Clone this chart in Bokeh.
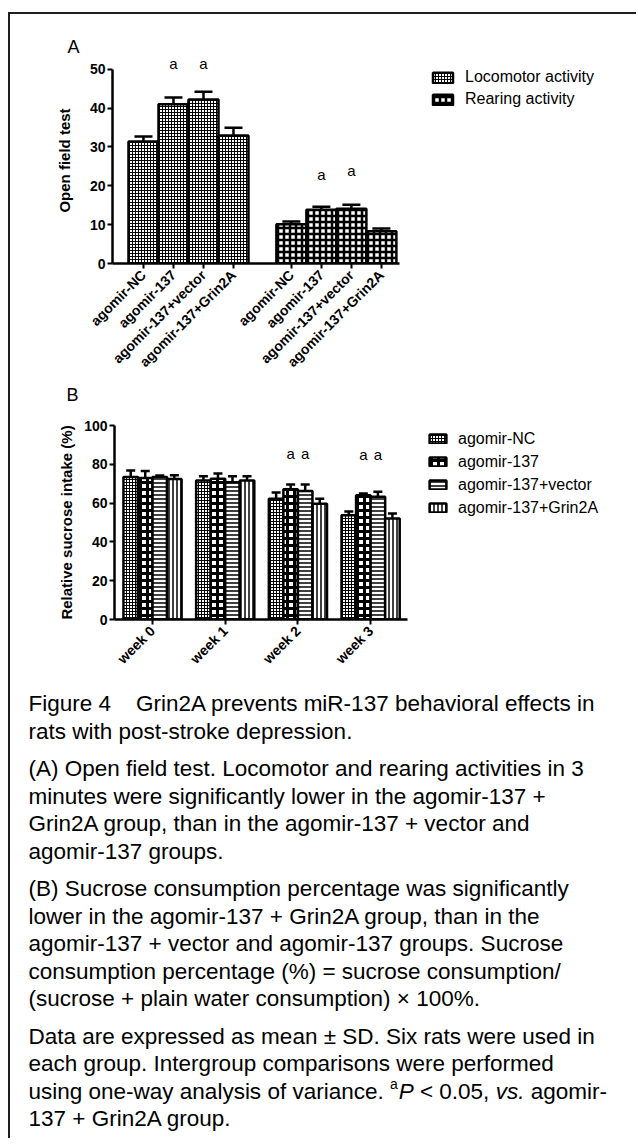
import math
from bokeh.plotting import figure
from bokeh.models import (ColumnDataSource, Range1d, Whisker, TeeHead, Title,
                          Legend, LegendItem, FixedTicker)
from bokeh.layouts import column
from bokeh.core.properties import value
from bokeh.embed import file_html
from bokeh.resources import INLINE

FONT = "Liberation Sans"
W = 626  # width of every figure

# ---------------- data: panel A (open field test) ----------------
a_groups = ["Locomotor activity", "Rearing activity"]
conditions = ["agomir-NC", "agomir-137", "agomir-137+vector", "agomir-137+Grin2A"]
locomotor_mean = [31.4, 41.0, 42.2, 32.9]
locomotor_sd = [1.3, 1.7, 2.0, 2.0]
rearing_mean = [10.1, 13.8, 14.1, 8.3]
rearing_sd = [0.7, 0.8, 1.0, 0.7]
a_yticks = [0, 10, 20, 30, 40, 50]
a_sig_index = [1, 2]
a_sig_locomotor_y = [51.4, 51.4]
a_sig_rearing_y = [22.9, 23.9]

# ---------------- data: panel B (sucrose preference) ----------------
weeks = ["week 0", "week 1", "week 2", "week 3"]
nc_mean = [73.4, 71.7, 62.3, 53.7]
nc_sd = [3.4, 2.2, 3.1, 2.0]
mir_mean = [73.0, 72.6, 67.1, 64.0]
mir_sd = [3.5, 2.7, 2.5, 0.9]
vector_mean = [73.4, 70.8, 66.2, 63.3]
vector_sd = [0.8, 3.0, 3.4, 2.6]
grin_mean = [72.4, 71.7, 59.7, 52.0]
grin_sd = [1.9, 2.1, 2.6, 2.6]
b_yticks = [0, 20, 40, 60, 80, 100]
b_sig_conditions = ["agomir-137", "agomir-137+vector"]
b_sig_weeks = ["week 2", "week 3"]
b_sig_y = [85.6, 84.8]

# ---------------- caption ----------------
caption_paragraphs = [
    ["Figure 4\u00a0\u00a0\u00a0\u00a0Grin2A prevents miR-137 behavioral effects in",
     "rats with post-stroke depression."],
    ["(A) Open field test. Locomotor and rearing activities in 3",
     "minutes were significantly lower in the agomir-137 +",
     "Grin2A group, than in the agomir-137 + vector and",
     "agomir-137 groups."],
    ["(B) Sucrose consumption percentage was significantly",
     "lower in the agomir-137 + Grin2A group, than in the",
     "agomir-137 + vector and agomir-137 groups. Sucrose",
     "consumption percentage (%) = sucrose consumption/",
     "(sucrose + plain water consumption) \u00d7 100%."],
    ["Data are expressed as mean \u00b1 SD. Six rats were used in",
     "each group. Intergroup comparisons were performed",
     None,
     "137 + Grin2A group."],
]
special_runs = [("using one-way analysis of variance. ", "normal"), ("a", "sup"),
                ("P", "italic"), (" < 0.05, ", "normal"), ("vs.", "italic"),
                (" agomir-", "normal")]


def style_axes(p, tick_size="14px", xlab_size="14px"):
    for ax in list(p.xaxis) + list(p.yaxis):
        ax.axis_line_width = 2.5
        ax.axis_line_color = "black"
        ax.major_tick_line_width = 2
        ax.major_tick_line_color = "black"
        ax.major_tick_out = 5
        ax.major_tick_in = 0
        ax.minor_tick_line_color = None
        ax.major_label_text_font = FONT
        ax.major_label_text_font_style = "bold"
        ax.major_label_text_color = "black"
        ax.major_label_text_font_size = tick_size
        ax.axis_label_text_font = FONT
        ax.axis_label_text_font_style = "bold"
        ax.axis_label_text_font_size = "15px"
        ax.axis_label_text_color = "black"
    for ax in p.xaxis:
        ax.major_label_orientation = math.pi / 4
        ax.major_label_text_font_size = xlab_size
        ax.major_label_standoff = 4
    for ax in p.yaxis:
        ax.major_label_standoff = 2
    p.grid.visible = False
    p.outline_line_color = None
    p.background_fill_color = "white"
    p.border_fill_color = "white"


def style_title(t, text, offset, standoff):
    t.text = text
    t.align = "left"
    t.offset = offset
    t.standoff = standoff
    t.text_font = FONT
    t.text_font_style = "normal"
    t.text_font_size = "18px"
    t.text_color = "black"


def make_legend(items, loc, gw, gh, row_h):
    return Legend(items=items, location=loc, border_line_color=None, background_fill_alpha=0,
                  padding=0, margin=0, spacing=0, glyph_width=gw, glyph_height=gh,
                  label_standoff=10, label_height=row_h, label_text_font=FONT,
                  label_text_font_size="16px", label_text_color="black")


# ======================= Panel A =======================
# 30 px per bar; frame runs to the right edge so the legend sits inside it
A_GROUP_GAP = 0.93
A_X0, A_AXIS_END = -1.033, 8.53
A_LEFT, A_RIGHT = 102, 5
A_X1 = A_X0 + (W - A_LEFT - A_RIGHT) / 30.0
pA = figure(width=W, height=394, x_range=Range1d(A_X0, A_X1), y_range=Range1d(0, 53),
            output_backend="svg", toolbar_location=None,
            min_border_left=A_LEFT, min_border_right=A_RIGHT,
            min_border_top=43, min_border_bottom=140)

a_series = [
    (a_groups[0], locomotor_mean, locomotor_sd,
     dict(hatch_pattern="cross", hatch_scale=3, hatch_weight=1)),
    (a_groups[1], rearing_mean, rearing_sd,
     dict(hatch_pattern="cross", hatch_scale=6, hatch_weight=2.5)),
]
a_renderers = []
a_tick_pos = []
a_tick_lab = {}
for gi, (grp, means, sds, hatch) in enumerate(a_series):
    xs = [gi * (len(conditions) + A_GROUP_GAP) + i for i in range(len(conditions))]
    a_tick_pos += xs
    for xv, c in zip(xs, conditions):
        a_tick_lab[xv] = c
    src = ColumnDataSource(dict(x=xs, top=means, upper=[m + s for m, s in zip(means, sds)]))
    r = pA.vbar(x="x", top="top", width=1.0, source=src, fill_color="white",
                line_color="black", line_width=2.5, hatch_color="black", **hatch)
    a_renderers.append(r)
    pA.add_layout(Whisker(source=src, base="x", lower="top", upper="upper", dimension="height",
                          line_width=2.5, line_color="black", level="overlay",
                          upper_head=TeeHead(size=18, line_width=2.5, line_color="black"),
                          lower_head=None))
    sig_y = a_sig_locomotor_y if gi == 0 else a_sig_rearing_y
    pA.text(x=[xs[i] for i in a_sig_index], y=sig_y, text=["a"] * len(sig_y),
            text_align="center", text_baseline="middle", text_font=value(FONT),
            text_font_size="15px", text_color="black")

style_axes(pA, tick_size="14px", xlab_size="14px")
pA.yaxis.ticker = FixedTicker(ticks=a_yticks)
pA.yaxis.bounds = (0, 50)
pA.yaxis.axis_label = "Open field test"
pA.yaxis.axis_label_standoff = 14
pA.xaxis.ticker = FixedTicker(ticks=a_tick_pos)
pA.xaxis.major_label_overrides = a_tick_lab
pA.xaxis.bounds = (A_X0, A_AXIS_END)
style_title(pA.title, "A", -45, 1)

# panel letter "B" sits under panel A's tick labels
title_b = Title()
style_title(title_b, "B", -46, 8)
pA.add_layout(title_b, "below")

pA.add_layout(make_legend([LegendItem(label=a_groups[i], renderers=[a_renderers[i]]) for i in range(2)],
                          (318, 153), 25, 13, 22))

# ======================= Panel B =======================
# 72.7 px per week group, bars 0.2 wide
B_PX = 72.7
B_X0, B_AXIS_END = -0.523, 3.507
B_LEFT, B_RIGHT = 104, 5
B_X1 = B_X0 + (W - B_LEFT - B_RIGHT) / B_PX
pB = figure(width=W, height=272, x_range=Range1d(B_X0, B_X1), y_range=Range1d(0, 100),
            output_backend="svg", toolbar_location=None,
            min_border_left=B_LEFT, min_border_right=B_RIGHT,
            min_border_top=17, min_border_bottom=61)

b_series = [
    (conditions[0], nc_mean, nc_sd, -0.3, dict(hatch_pattern="cross", hatch_scale=3, hatch_weight=1)),
    (conditions[1], mir_mean, mir_sd, -0.1, dict(hatch_pattern="cross", hatch_scale=7, hatch_weight=3)),
    (conditions[2], vector_mean, vector_sd, 0.1, dict(hatch_pattern="horizontal_line", hatch_scale=4, hatch_weight=1.5)),
    (conditions[3], grin_mean, grin_sd, 0.3, dict(hatch_pattern="vertical_line", hatch_scale=4, hatch_weight=1.5)),
]
week_pos = list(range(len(weeks)))
b_renderers = []
b_offsets = {}
for cond, means, sds, off, hatch in b_series:
    b_offsets[cond] = off
    src = ColumnDataSource(dict(x=[w + off for w in week_pos], top=means,
                                upper=[m + s for m, s in zip(means, sds)]))
    r = pB.vbar(x="x", top="top", width=0.2, source=src,
                fill_color="white", line_color="black", line_width=2.5,
                hatch_color="black", **hatch)
    b_renderers.append(r)
    pB.add_layout(Whisker(source=src, base="x", lower="top", upper="upper",
                          dimension="height", line_width=2.5, line_color="black", level="overlay",
                          upper_head=TeeHead(size=9, line_width=2.5, line_color="black"),
                          lower_head=None))

for cond in b_sig_conditions:
    sx = [weeks.index(w) + b_offsets[cond] for w in b_sig_weeks]
    pB.text(x=sx, y=b_sig_y, text=["a"] * len(sx),
            text_align="center", text_baseline="middle", text_font=value(FONT),
            text_font_size="15px", text_color="black")

style_axes(pB, tick_size="14px", xlab_size="14px")
pB.yaxis.ticker = FixedTicker(ticks=b_yticks)
pB.yaxis.axis_label = "Relative sucrose intake (%)"
pB.yaxis.axis_label_standoff = 6
pB.xaxis.ticker = FixedTicker(ticks=week_pos)
pB.xaxis.major_label_overrides = {w: lab for w, lab in zip(week_pos, weeks)}
pB.xaxis.bounds = (B_X0, B_AXIS_END)

pB.add_layout(make_legend([LegendItem(label=conditions[i], renderers=[b_renderers[i]]) for i in range(4)],
                          (313, 100), 21, 11, 23))

# ======================= Caption =======================
CAP_H = 458
pC = figure(width=W, height=CAP_H, x_range=Range1d(0, W), y_range=Range1d(CAP_H, 0),
            output_backend="svg", toolbar_location=None, min_border=0)
pC.axis.visible = False
pC.grid.visible = False
pC.outline_line_color = None

ARIAL_W = {" ": 278, "\u00a0": 278, "a": 556, "b": 556, "c": 500, "d": 556, "e": 556, "f": 278,
           "g": 556, "h": 556, "i": 222, "j": 222, "k": 500, "l": 222, "m": 833, "n": 556,
           "o": 556, "p": 556, "q": 556, "r": 333, "s": 500, "t": 278, "u": 556, "v": 500,
           "w": 722, "x": 500, "y": 500, "z": 500, ".": 278, ",": 278, "-": 333, "<": 584,
           "P": 667}


def text_w(s, size):
    return sum(ARIAL_W.get(ch, 556) for ch in s) * size / 1000.0


CAP_SIZE = 22.5
cap_x0 = 18
line_step = 27.5
para_gap = 10
y = 23.0
xs, ys, ts = [], [], []
special_y = None
for para in caption_paragraphs:
    for line in para:
        if line is None:
            special_y = y
        else:
            xs.append(cap_x0)
            ys.append(y)
            ts.append(line)
        y += line_step
    y += para_gap

pC.text(x=xs, y=ys, text=ts, text_font=value(FONT), text_font_size=f"{CAP_SIZE}px",
        text_baseline="middle", text_align="left", text_color="black")

cx = cap_x0
for txt, st in special_runs:
    shown = txt.replace(" ", "\u00a0")
    if st == "sup":
        pC.text(x=[cx], y=[special_y - 7], text=[shown], text_font=value(FONT),
                text_font_size="14px", text_baseline="middle", text_color="black")
        cx += text_w(txt, 14) + 1
    else:
        pC.text(x=[cx], y=[special_y], text=[shown], text_font=value(FONT),
                text_font_size=f"{CAP_SIZE}px", text_baseline="middle",
                text_font_style="italic" if st == "italic" else "normal", text_color="black")
        cx += text_w(txt, CAP_SIZE)

BORDER = "2px solid #1e1e1e"
rootA = column(pA, styles={"border-left": BORDER, "border-top": BORDER,
                           "margin-left": "8px", "margin-top": "12px"})
rootB = column(pB, styles={"border-left": BORDER, "margin-left": "8px"})
rootC = column(pC, styles={"border-left": BORDER, "margin-left": "8px"})

open("out.html", "w").write(file_html([rootA, rootB, rootC], INLINE))
